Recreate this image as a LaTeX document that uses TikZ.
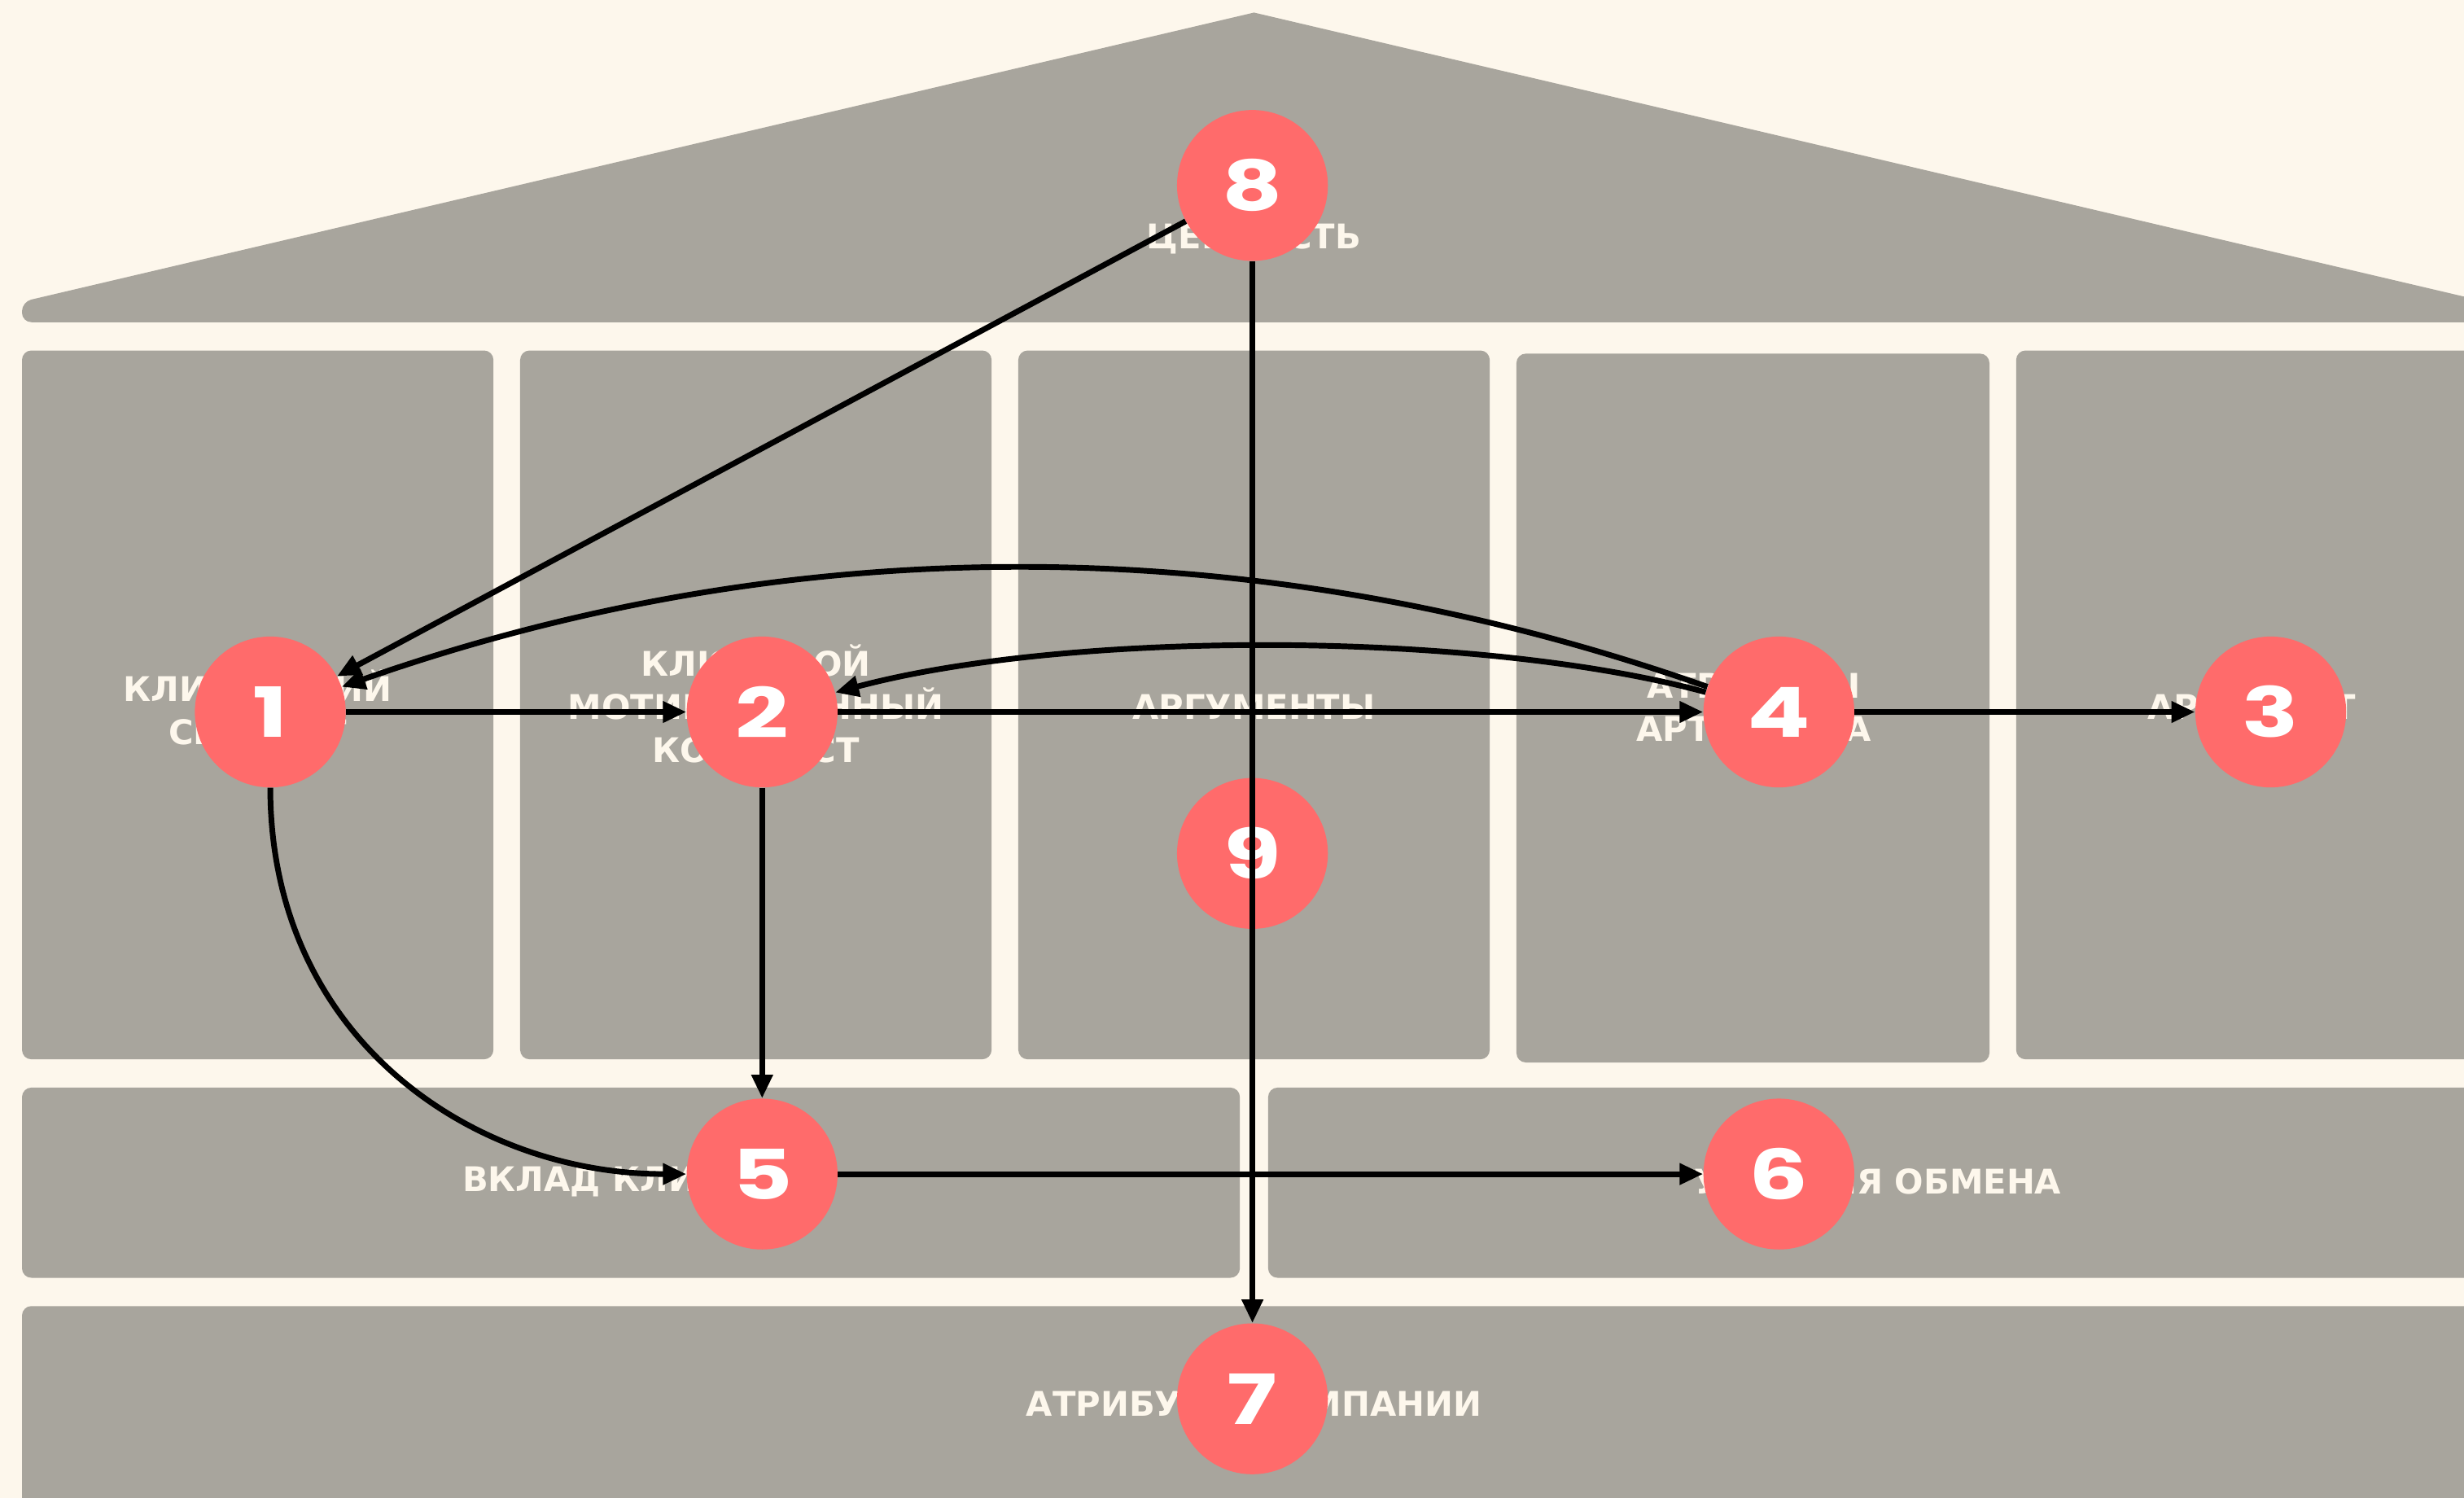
\documentclass[tikz,border=0pt]{standalone}
\usepackage{fontspec}
\usetikzlibrary{arrows.meta}
\newfontfamily\labelfont{DejaVu Sans}
\newfontfamily\numfont{Poppins}
\definecolor{bgcream}{HTML}{FDF7EC}
\definecolor{wallgray}{HTML}{A8A59D}
\definecolor{dotred}{HTML}{FF6B6B}
\begin{document}
\begin{tikzpicture}[x=1pt,y=-1pt,
  block/.style={fill=wallgray, rounded corners=6pt},
  caption/.style={text=bgcream, align=center, font=\labelfont\bfseries\fontsize{21.6}{27.5}\selectfont},
  numdot/.style={circle, fill=dotred, minimum size=96pt, inner sep=0pt, text=white, font=\numfont\bfseries\fontsize{44}{44}\selectfont},
  link/.style={line width=3.6pt, -{Triangle[length=15pt,width=13pt]}}]
  % page
  \useasboundingbox (0,0) rectangle (1568,953);
  \fill[bgcream] (0,0) rectangle (1568,953);
  \clip (0,0) rectangle (1568,953);
  % roof
  \fill[wallgray] (798,205) [rounded corners=6pt] -- (14,205) -- (14,192) [sharp corners] -- (798,8) -- (1582,192) -- (1582,205) -- cycle;
  % columns
  \fill[block] (14,223) rectangle (314,674);
  \fill[block] (331,223) rectangle (631,674);
  \fill[block] (648,223) rectangle (948,674);
  \fill[block] (965,225) rectangle (1266,676);
  \fill[block] (1283,223) rectangle (1583,674);
  % floor rows
  \fill[block] (14,692) rectangle (789,813);
  \fill[block] (807,692) rectangle (1582,813);
  \fill[block] (14,831) rectangle (1582,975);
  % captions
  \node[caption] (tvalue) at (798,152) {ЦЕННОСТЬ};
  \node[caption] (tsegment) at (164,450) {КЛИЕНТСКИЙ\\СЕГМЕНТ};
  \node[caption] (tcontext) at (481,448) {КЛЮЧЕВОЙ\\МОТИВАЦИОННЫЙ\\КОНТЕКСТ};
  \node[caption] (targs) at (798,450) {АРГУМЕНТЫ};
  \node[caption] (tattrs) at (1116,450) {АТРИБУТЫ\\АРТЕФАКТА};
  \node[caption] (tartefact) at (1433,450) {АРТЕФАКТ};
  \node[caption] (tinput) at (401,752) {ВКЛАД КЛИЕНТА};
  \node[caption] (tterms) at (1195,752) {УСЛОВИЯ ОБМЕНА};
  \node[caption] (tcompany) at (798,893) {АТРИБУТЫ КОМПАНИИ};
  % numbered dots
  \node[numdot] (c1) at (172,453) {\scalebox{1.35}[1]{1}};
  \node[numdot] (c2) at (485,453) {\scalebox{1.35}[1]{2}};
  \node[numdot] (c3) at (1445,453) {\scalebox{1.35}[1]{3}};
  \node[numdot] (c4) at (1132,453) {\scalebox{1.35}[1]{4}};
  \node[numdot] (c5) at (485,747) {\scalebox{1.35}[1]{5}};
  \node[numdot] (c6) at (1132,747) {\scalebox{1.35}[1]{6}};
  \node[numdot] (c7) at (797,890) {\scalebox{1.35}[1]{7}};
  \node[numdot] (c8) at (797,118) {\scalebox{1.35}[1]{8}};
  \node[numdot] (c9) at (797,543) {\scalebox{1.35}[1]{9}};
  % connectors
  \draw[link] (c8) -- (c1);
  \draw[link] (c4) .. controls (800,336) and (505,336) .. (c1);
  \draw[link] (c4) .. controls (940,401) and (680,401) .. (c2);
  \draw[link] (c1) -- (c2);
  \draw[link] (c2) -- (c4);
  \draw[link] (c4) -- (c3);
  \draw[link] (c1) .. controls (172,660) and (300,747) .. (c5);
  \draw[link] (c2) -- (c5);
  \draw[link] (c5) -- (c6);
  \draw[link] (c8) -- (c7);
\end{tikzpicture}
\end{document}
